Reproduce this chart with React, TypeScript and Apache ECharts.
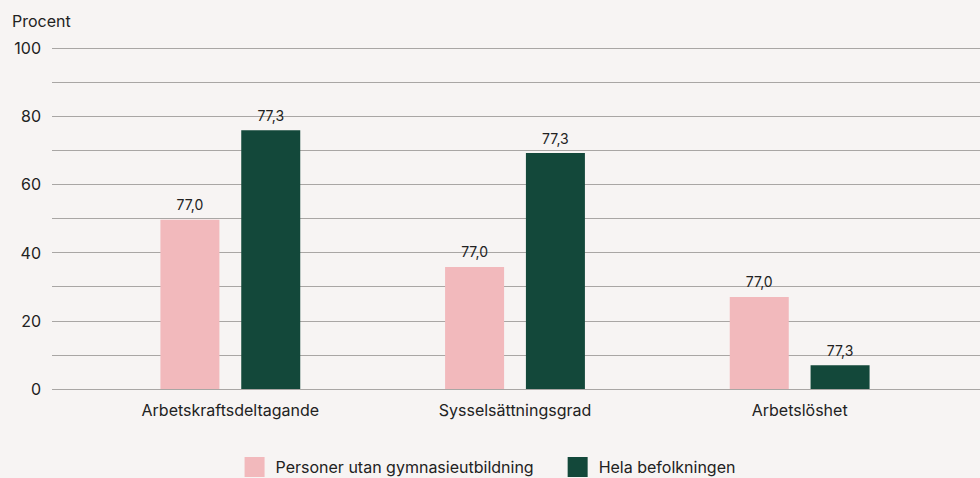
import React, { useEffect, useRef } from "react";
import * as echarts from "echarts";

const categories = ["Arbetskraftsdeltagande", "Sysselsättningsgrad", "Arbetslöshet"];
const seriesNames = ["Personer utan gymnasieutbildning", "Hela befolkningen"];
const pinkValues = [49.6, 35.8, 27.0];
const greenValues = [75.9, 69.2, 7.0];
const pinkLabels = ["77,0", "77,0", "77,0"];
const greenLabels = ["77,3", "77,3", "77,3"];
const yTickLabels = ["0", "20", "40", "60", "80", "100"];

const FONT = "Inter, 'Noto Sans', sans-serif";
const PINK = "#f2b9bc";
const GREEN = "#13483a";
const BG = "#f7f4f3";

export default function App() {
  const ref = useRef<HTMLDivElement>(null);
  useEffect(() => {
    if (!ref.current) return;
    const chart = echarts.init(ref.current, null, { renderer: "svg" });
    chart.setOption({
      animation: false,
      backgroundColor: BG,
      textStyle: { fontFamily: FONT },
      title: {
        text: "Procent",
        left: 7,
        top: 8,
        textStyle: { fontFamily: FONT, fontSize: 16, fontWeight: "normal", color: "#222" },
      },
      legend: {
        bottom: -4,
        left: "center",
        itemWidth: 20,
        itemHeight: 20,
        itemGap: 34,
        icon: "rect",
        textStyle: { fontFamily: FONT, fontSize: 16, color: "#222", padding: [0, 0, 0, 6] },
        data: seriesNames,
      },
      grid: [
        { left: 52, right: 0, top: 48, bottom: 89 },
        { left: 88, right: 38, top: 48, bottom: 89 },
      ],
      xAxis: [
        { type: "category", gridIndex: 0, data: categories, show: false },
        {
          type: "category",
          gridIndex: 1,
          data: categories,
          axisLine: { show: false },
          axisTick: { show: false },
          axisLabel: { fontFamily: FONT, fontSize: 16, color: "#222", margin: 13 },
        },
      ],
      yAxis: [
        {
          type: "value",
          gridIndex: 0,
          min: 0,
          max: 100,
          interval: 10,
          axisLine: { show: false },
          axisTick: { show: false },
          splitLine: { lineStyle: { color: "#a9a6a4", width: 1.2 } },
          axisLabel: {
            fontFamily: FONT,
            fontSize: 16,
            color: "#222",
            margin: 11,
            formatter: (v: number) => {
              const s = String(v);
              return yTickLabels.includes(s) ? s : "";
            },
          },
        },
        {
          type: "value",
          gridIndex: 1,
          min: 0,
          max: 100,
          interval: 10,
          show: false,
          splitLine: { show: false },
        },
      ],
      series: [
        {
          name: seriesNames[0],
          type: "bar",
          xAxisIndex: 1,
          yAxisIndex: 1,
          data: pinkValues,
          itemStyle: { color: PINK },
          barWidth: 59,
          barGap: "37%",
          label: {
            show: true,
            position: "top",
            distance: 8,
            fontFamily: FONT,
            fontSize: 14,
            color: "#222",
            formatter: (p: any) => pinkLabels[p.dataIndex],
          },
        },
        {
          name: seriesNames[1],
          type: "bar",
          xAxisIndex: 1,
          yAxisIndex: 1,
          data: greenValues,
          itemStyle: { color: GREEN },
          barWidth: 59,
          barGap: "37%",
          label: {
            show: true,
            position: "top",
            distance: 8,
            fontFamily: FONT,
            fontSize: 14,
            color: "#222",
            formatter: (p: any) => greenLabels[p.dataIndex],
          },
        },
      ],
    });
    return () => chart.dispose();
  }, []);
  return (
    <div
      ref={ref}
      style={{ width: 980, height: 478, position: "fixed", left: 0, top: 0 }}
    />
  );
}
